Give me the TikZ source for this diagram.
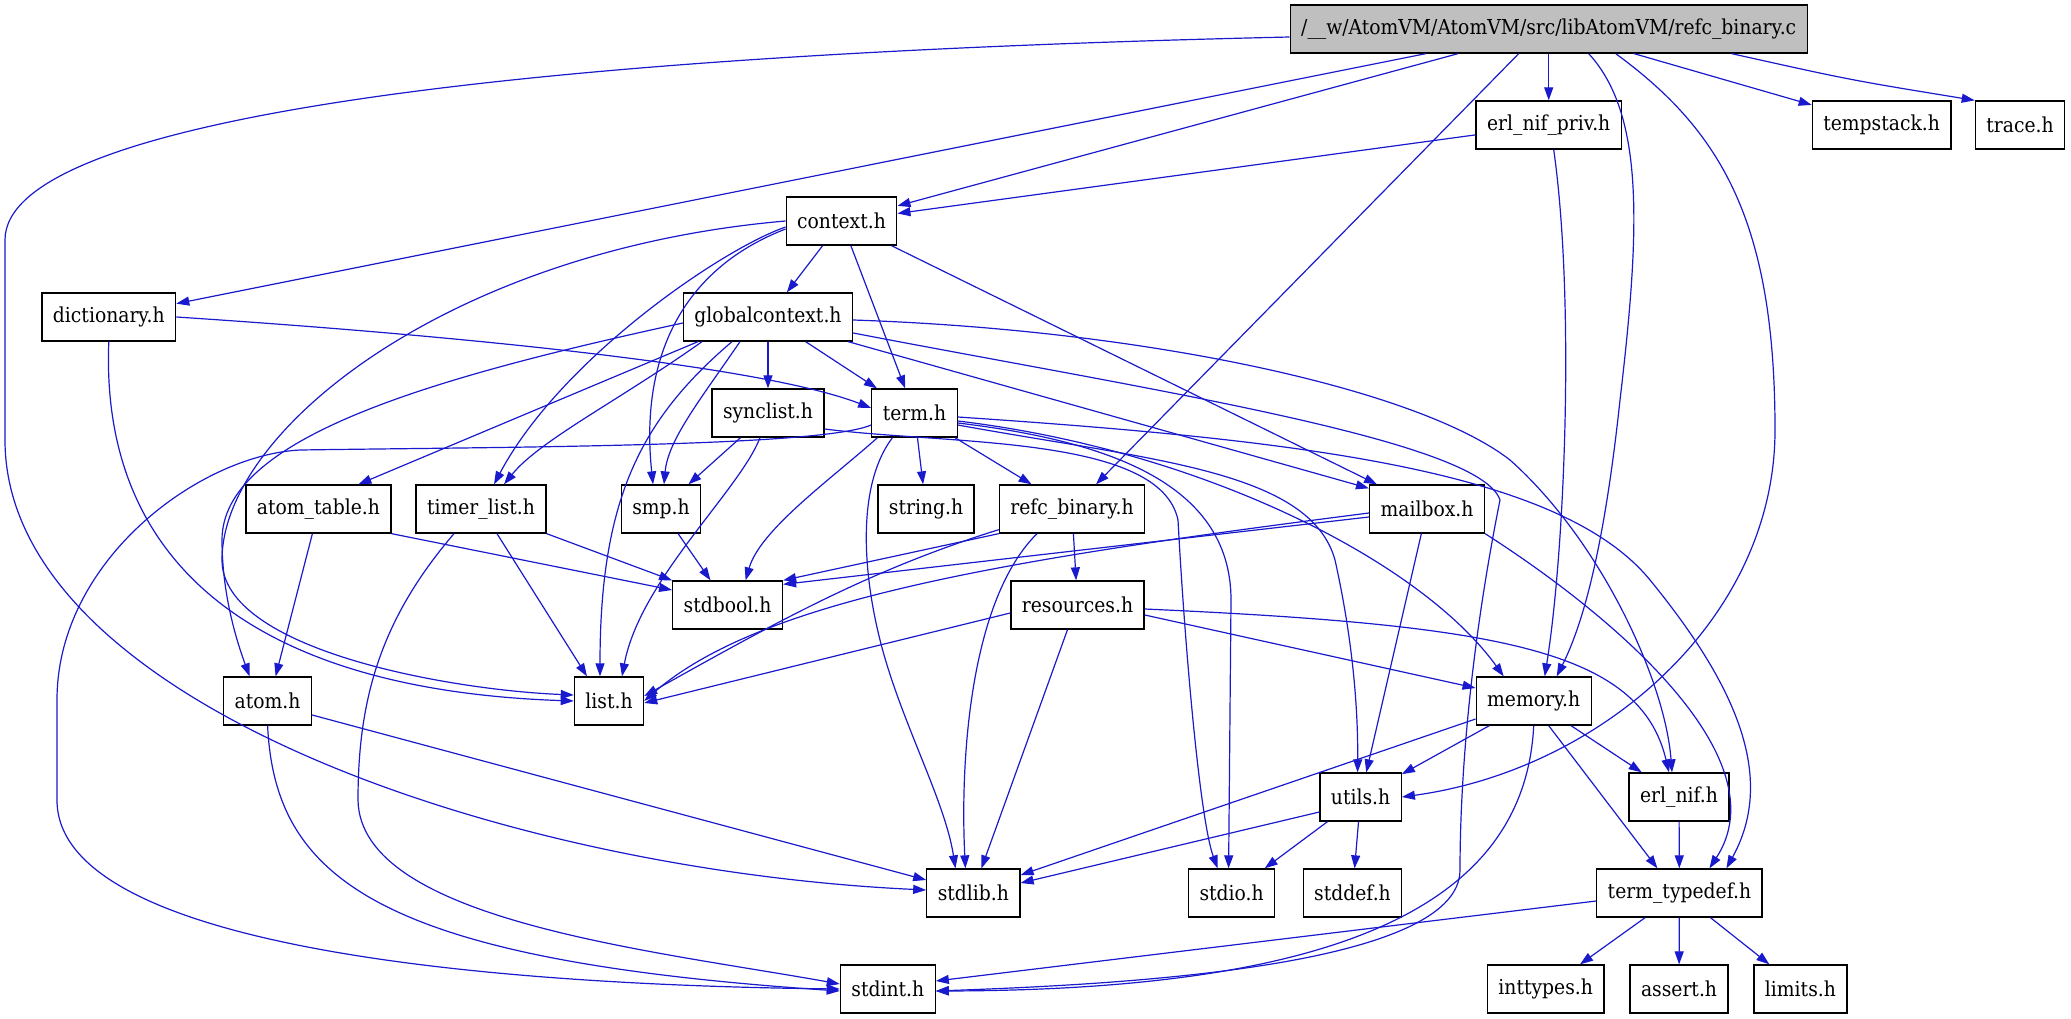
\documentclass[tikz,border=0pt]{standalone}
\usepackage{fontspec}
\setmainfont{DejaVu Serif}[FakeStretch=0.91]
\usetikzlibrary{arrows.meta}
\definecolor{edgeblue}{RGB}{25,25,205}
\definecolor{maingray}{RGB}{191,191,191}
\begin{document}
\begin{tikzpicture}[x=1pt,y=-1pt,
  file/.style={draw,line width=1.3pt,minimum height=48pt,inner xsep=11pt,inner ysep=0pt,
    font=\fontsize{20.6}{24}\selectfont},
  edge/.style={edgeblue,line width=1.2pt,-{Triangle[length=13pt,width=9pt]}}]
\useasboundingbox (0,0) rectangle (2071,1019);
\node[file,fill=maingray] (main) at (1548.7,29) {/\_\_w/AtomVM/AtomVM/src/libAtomVM/refc\_binary.c};
\node[file] (erlnifpriv) at (1548.7,125) {erl\_nif\_priv.h};
\node[file] (tempstack) at (1881.6,125) {tempstack.h};
\node[file] (trace) at (2020,125) {trace.h};
\node[file] (context) at (841.5,221) {context.h};
\node[file] (dictionary) at (108.8,317) {dictionary.h};
\node[file] (globalcontext) at (768,317) {globalcontext.h};
\node[file] (synclist) at (768,413) {synclist.h};
\node[file] (term) at (914.5,413) {term.h};
\node[file] (atomtable) at (318.4,509) {atom\_table.h};
\node[file] (timerlist) at (481,509) {timer\_list.h};
\node[file] (smp) at (661,509) {smp.h};
\node[file] (string) at (926,509) {string.h};
\node[file] (refcbinary) at (1072,509) {refc\_binary.h};
\node[file] (mailbox) at (1427,509) {mailbox.h};
\node[file] (stdbool) at (727.6,605) {stdbool.h};
\node[file] (resources) at (1077.5,605) {resources.h};
\node[file] (atom) at (267.6,701) {atom.h};
\node[file] (list) at (609,701) {list.h};
\node[file] (memory) at (1533.7,701) {memory.h};
\node[file] (utils) at (1360.6,797) {utils.h};
\node[file] (erlnif) at (1679,797) {erl\_nif.h};
\node[file] (stdlib) at (973.4,893) {stdlib.h};
\node[file] (stdio) at (1231.6,893) {stdio.h};
\node[file] (stddef) at (1352.5,893) {stddef.h};
\node[file] (termtypedef) at (1679.4,893) {term\_typedef.h};
\node[file] (stdint) at (887.8,989) {stdint.h};
\node[file] (inttypes) at (1545.7,989) {inttypes.h};
\node[file] (assert) at (1679,989) {assert.h};
\node[file] (limits) at (1800.4,989) {limits.h};

\draw[edge] ([yshift=-8pt]main.west) .. controls (500,55) and (5,120) .. (5,240) -- (5,440) .. controls (5,700) and (500,870) .. ([yshift=3pt]stdlib.west);
\draw[edge] (main) -- (dictionary);
\draw[edge] (main) -- (context);
\draw[edge] (main) -- (erlnifpriv);
\draw[edge] ([xshift=-30pt]main.south) -- ([xshift=24pt]refcbinary.north);
\draw[edge] ([xshift=40pt]main.south) .. controls (1645,115) and (1640,230) .. (1620,400) .. controls (1605,540) and (1585,620) .. ([xshift=23pt]memory.north);
\draw[edge] ([xshift=67pt]main.south) .. controls (1720,130) and (1775,220) .. (1775,430) .. controls (1775,620) and (1600,770) .. (utils.east);
\draw[edge] (main) -- (tempstack);
\draw[edge] ([xshift=183pt]main.south) .. controls (1850,80) .. (trace.north west);

\draw[edge] (erlnifpriv) -- (context);
\draw[edge] ([xshift=5pt]erlnifpriv.south) .. controls (1575,300) and (1565,550) .. ([xshift=11pt]memory.north);

\draw[edge] (context) -- (globalcontext);
\draw[edge] (context) -- (term);
\draw[edge] (context) -- (mailbox);
\draw[edge] (context.west) .. controls (450,250) and (222,430) .. (222,560) .. controls (222,650) and (450,690) .. ([yshift=6pt]list.west);
\draw[edge] ([yshift=-6pt]context.west) .. controls (720,250) and (560,360) .. ([xshift=13pt]timerlist.north);
\draw[edge] ([yshift=-8pt]context.west) .. controls (680,270) and (640,360) .. ([xshift=-8pt]smp.north);

\draw[edge] (dictionary.east) .. controls (450,335) and (760,365) .. ([yshift=5pt]term.west);
\draw[edge] (dictionary.south) .. controls (100,560) and (250,690) .. (list.west);

\draw[edge] ([yshift=-6pt]globalcontext.west) .. controls (420,380) and (222,440) .. (222,540) .. controls (222,600) and (240,650) .. ([xshift=-18pt]atom.north);
\draw[edge] ([xshift=-70pt]globalcontext.south) -- ([xshift=40pt]atomtable.north);
\draw[edge] ([xshift=-66pt]globalcontext.south) .. controls (620,400) and (540,440) .. ([xshift=23pt]timerlist.north);
\draw[edge] ([xshift=-36pt]globalcontext.south) .. controls (640,420) and (600,500) .. ([xshift=-9pt]list.north);
\draw[edge] ([xshift=-28pt]globalcontext.south) .. controls (700,400) and (668,440) .. ([xshift=3pt]smp.north);
\draw[edge] (globalcontext) -- (synclist);
\draw[edge] (globalcontext) -- (term);
\draw[edge] ([xshift=-5pt]globalcontext.south east) -- ([yshift=-4pt]mailbox.north west);
\draw[edge] ([yshift=-3pt]globalcontext.east) .. controls (1150,330) and (1420,390) .. (1510,460) .. controls (1600,540) and (1665,680) .. ([xshift=-7pt]erlnif.north);
\draw[edge] ([yshift=-16pt]globalcontext.east) .. controls (1150,390) and (1480,440) .. (1500,500) .. controls (1470,650) and (1460,780) .. (1460,870) .. controls (1460,970) and (1100,985) .. ([yshift=-2pt]stdint.east);

\draw[edge] (synclist) -- (smp);
\draw[edge] ([xshift=-8pt]synclist.south) .. controls (740,490) and (640,580) .. ([xshift=13pt]list.north);
\draw[edge] ([yshift=-16pt]synclist.east) .. controls (950,445) and (1160,435) .. (1178,520) .. controls (1185,650) and (1200,820) .. ([xshift=-14pt]stdio.north);

\draw[edge] ([yshift=-12pt]term.west) .. controls (820,447) and (500,447) .. (300,450) .. controls (200,455) and (57,560) .. (57,700) -- (57,800) .. controls (57,950) and (500,985) .. (stdint.west);
\draw[edge] ([xshift=-37pt]term.south) .. controls (830,480) and (760,530) .. ([xshift=18pt]stdbool.north);
\draw[edge] ([xshift=-22pt]term.south) .. controls (860,480) and (860,560) .. (880,640) .. controls (900,720) and (945,800) .. ([xshift=-18pt]stdlib.north);
\draw[edge] (term) -- (string);
\draw[edge] (term) -- (refcbinary);
\draw[edge] ([yshift=-10pt]term.east) .. controls (1100,440) and (1231,480) .. (1231,600) -- ([xshift=-3pt]stdio.north);
\draw[edge] ([yshift=-12pt]term.east) .. controls (1150,460) and (1310,470) .. (1335,560) .. controls (1355,650) and (1358,720) .. ([xshift=-3pt]utils.north);
\draw[edge] ([yshift=-8pt]term.east) .. controls (1200,450) and (1420,560) .. ([xshift=-30pt]memory.north);
\draw[edge] ([yshift=-4pt]term.east) .. controls (1300,440) and (1560,470) .. (1650,580) .. controls (1740,690) and (1775,780) .. ([xshift=47pt]termtypedef.north);

\draw[edge] (refcbinary) -- (resources);
\draw[edge] (refcbinary.south west) -- (stdbool.north east);
\draw[edge] ([yshift=4pt]refcbinary.south west) .. controls (870,570) and (780,620) .. ([yshift=5pt]list.east);
\draw[edge] ([xshift=-35pt]refcbinary.south) .. controls (970,600) and (960,760) .. ([xshift=-8pt]stdlib.north);

\draw[edge] ([yshift=-8pt]resources.west) -- ([yshift=-2pt]list.east);
\draw[edge] ([xshift=-10pt]resources.south) -- ([xshift=8pt]stdlib.north);
\draw[edge] ([yshift=-10pt]resources.east) -- ([yshift=13pt]memory.west);
\draw[edge] ([yshift=-4pt]resources.east) .. controls (1500,625) and (1640,650) .. ([xshift=-10pt]erlnif.north);

\draw[edge] ([yshift=-8pt]mailbox.west) -- ([yshift=-4pt]stdbool.north east);
\draw[edge] ([yshift=-4pt]mailbox.west) .. controls (1000,560) and (760,600) .. (list.east);
\draw[edge] (mailbox) -- (utils);
\draw[edge] (mailbox.south east) .. controls (1620,620) and (1780,760) .. ([xshift=30pt]termtypedef.north);

\draw[edge] (atomtable.south east) -- ([yshift=15pt]stdbool.west);
\draw[edge] ([xshift=-6pt]atomtable.south) -- ([xshift=8pt]atom.north);
\draw[edge] ([xshift=16pt]timerlist.south) -- ([xshift=-22pt]list.north);
\draw[edge] (timerlist.south east) -- (stdbool.north west);
\draw[edge] ([xshift=-27pt]timerlist.south) .. controls (380,620) and (358,700) .. (358,800) .. controls (360,920) and (650,950) .. ([yshift=5pt]stdint.west);
\draw[edge] (smp) -- (stdbool);
\draw[edge] (atom.south) .. controls (275,880) and (380,960) .. ([yshift=-2pt]stdint.west);
\draw[edge] ([yshift=-14pt]atom.east) -- ([yshift=13pt]stdlib.west);

\draw[edge] ([yshift=-18pt]memory.west) -- ([yshift=18pt]stdlib.east);
\draw[edge] (memory.south) .. controls (1525,900) and (1350,990) .. ([yshift=-2pt]stdint.east);
\draw[edge] (memory) -- (utils);
\draw[edge] (memory) -- (erlnif);
\draw[edge] ([xshift=15pt]memory.south) -- ([xshift=-22pt]termtypedef.north);
\draw[edge] (utils) -- (stdio);
\draw[edge] (utils) -- (stddef);
\draw[edge] ([yshift=-15pt]utils.west) -- ([yshift=10pt]stdlib.east);
\draw[edge] (erlnif) -- (termtypedef);
\draw[edge] ([yshift=-8pt]termtypedef.west) -- ([yshift=8pt]stdint.east);
\draw[edge] (termtypedef) -- (inttypes);
\draw[edge] (termtypedef) -- (assert);
\draw[edge] (termtypedef) -- (limits);
\end{tikzpicture}
\end{document}
